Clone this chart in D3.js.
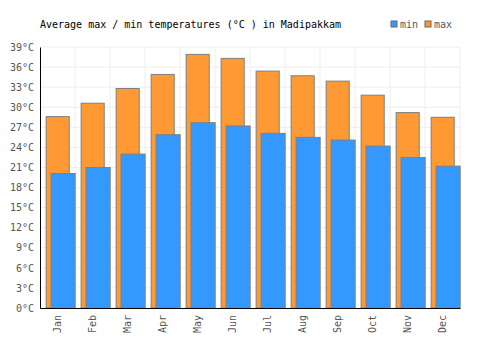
<!DOCTYPE html>
<html>
<head>
<meta charset="utf-8">
<script src="https://cdn.jsdelivr.net/npm/d3@7"></script>
<style>
  body { margin: 0; background: #fff; }
  svg { display: block; font-family: "DejaVu Sans Mono", "Liberation Mono", monospace; }
</style>
</head>
<body>
<div id="chart"></div>
<script>
const months = ["Jan", "Feb", "Mar", "Apr", "May", "Jun", "Jul", "Aug", "Sep", "Oct", "Nov", "Dec"];
const minTemps = [20.1, 21.0, 23.0, 25.9, 27.7, 27.2, 26.1, 25.5, 25.1, 24.2, 22.5, 21.2];
const maxTemps = [28.6, 30.6, 32.8, 34.9, 37.9, 37.3, 35.4, 34.7, 33.9, 31.8, 29.2, 28.5];
const yTicks = [0, 3, 6, 9, 12, 15, 18, 21, 24, 27, 30, 33, 36, 39];

const width = 500, height = 350;
const margin = { top: 47, right: 40, bottom: 42, left: 40 };
const innerW = width - margin.left - margin.right;
const innerH = height - margin.top - margin.bottom;

const svg = d3.select("#chart").append("svg")
    .attr("width", width)
    .attr("height", height);

const g = svg.append("g")
    .attr("transform", `translate(${margin.left},${margin.top})`);

const x = d3.scaleBand().domain(months).range([0, innerW]);
const y = d3.scaleLinear().domain([0, 39]).range([innerH, 0]);
const bw = x.bandwidth();

// grid
g.selectAll(".hgrid")
    .data(yTicks)
    .enter().append("line")
    .attr("x1", 0).attr("x2", innerW)
    .attr("y1", d => y(d)).attr("y2", d => y(d))
    .attr("stroke", "#eeeeee").attr("stroke-width", 1);

g.selectAll(".vgrid")
    .data(months.slice(1).concat(["end"]))
    .enter().append("line")
    .attr("x1", (d, i) => (i + 1) * bw).attr("x2", (d, i) => (i + 1) * bw)
    .attr("y1", 0).attr("y2", innerH)
    .attr("stroke", "#eeeeee").attr("stroke-width", 1);

// max bars
g.selectAll(".maxbar")
    .data(maxTemps)
    .enter().append("rect")
    .attr("x", (d, i) => x(months[i]) + bw * 0.175)
    .attr("width", bw * 0.66)
    .attr("y", d => y(d))
    .attr("height", d => innerH - y(d))
    .attr("fill", "#ff9933")
    .attr("stroke", "#808080")
    .attr("stroke-width", 1);

// min bars
g.selectAll(".minbar")
    .data(minTemps)
    .enter().append("rect")
    .attr("x", (d, i) => x(months[i]) + bw * 0.315)
    .attr("width", bw * 0.69)
    .attr("y", d => y(d))
    .attr("height", d => innerH - y(d))
    .attr("fill", "#3399ff")
    .attr("stroke", "#808080")
    .attr("stroke-width", 1);

// axes
const yAxis = g.append("g")
    .call(d3.axisLeft(y).tickValues(yTicks).tickSize(0).tickPadding(6).tickFormat(d => d + "°C"));
yAxis.select(".domain").attr("stroke", "#000");
yAxis.selectAll("text")
    .attr("fill", "#555")
    .style("font-size", "10px")
    .style("font-family", "DejaVu Sans Mono, monospace");

const xAxis = g.append("g")
    .attr("transform", `translate(0,${innerH})`)
    .call(d3.axisBottom(x).tickSize(0).tickPadding(0));
xAxis.select(".domain").attr("stroke", "#000");
xAxis.selectAll("text")
    .attr("fill", "#555")
    .style("font-size", "10px")
    .style("font-family", "DejaVu Sans Mono, monospace")
    .attr("text-anchor", "end")
    .attr("transform", "rotate(-90)")
    .attr("dx", "-7px")
    .attr("dy", "0.35em")
    .attr("y", 0);

// title
svg.append("text")
    .attr("x", 40)
    .attr("y", 28)
    .attr("fill", "#000")
    .style("font-size", "10px")
    .text("Average max / min temperatures (°C ) in Madipakkam");

// legend
const legend = [
    { label: "min", color: "#3399ff", x: 391 },
    { label: "max", color: "#ff9933", x: 425 }
];
const lg = svg.selectAll(".legend")
    .data(legend)
    .enter().append("g")
    .attr("transform", d => `translate(${d.x},21)`);
lg.append("rect")
    .attr("width", 6).attr("height", 6)
    .attr("fill", d => d.color)
    .attr("stroke", "#666").attr("stroke-width", 1);
lg.append("text")
    .attr("x", 9).attr("y", 7)
    .attr("fill", "#555")
    .style("font-size", "10px")
    .text(d => d.label);
</script>
</body>
</html>
